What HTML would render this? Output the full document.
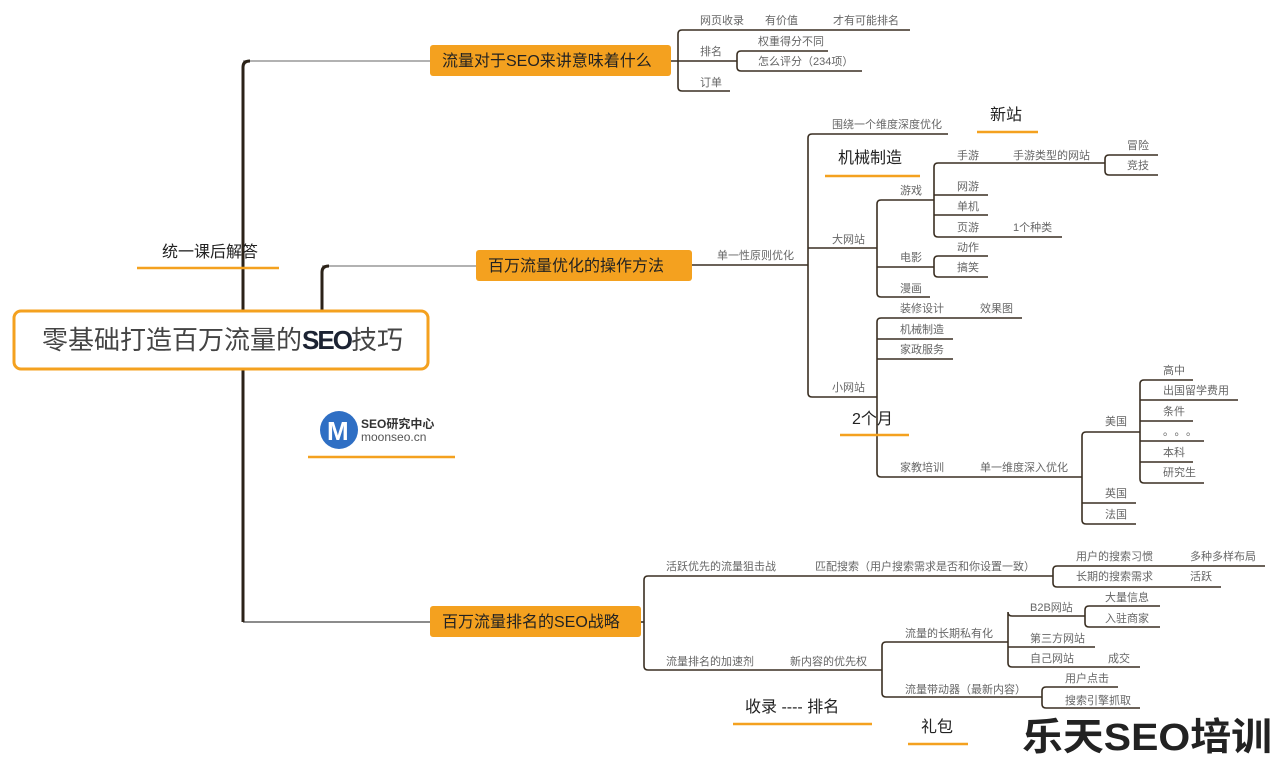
<!DOCTYPE html>
<html><head><meta charset="utf-8"><style>
html,body{margin:0;padding:0;background:#fff;}
svg{display:block;}
text{font-family:"Liberation Sans","Noto Sans CJK SC",sans-serif;}
.t{font-size:11px;fill:#666;}
.b{font-size:16px;fill:#222;}
.l{stroke:#3a2f22;stroke-width:1.6;fill:none;}
.o{stroke:#f4a11f;stroke-width:2.5;}
</style></head><body>
<svg width="1280" height="758" viewBox="0 0 1280 758" xmlns="http://www.w3.org/2000/svg">
<!-- trunk -->
<path d="M243,61 L430,61" stroke="#999" stroke-width="1.5"/>
<path d="M322,266 L476,266" stroke="#999" stroke-width="1.5"/>
<path d="M243,622 L430,622" stroke="#666" stroke-width="1.5"/>
<path d="M243,622 L243,67 Q243,61 250,61" fill="none" stroke="#2b2218" stroke-width="3"/>
<path d="M322,310 L322,272 Q322,266 329,266" fill="none" stroke="#2b2218" stroke-width="3"/>

<!-- root -->
<rect x="14" y="311" width="414" height="58" rx="7" fill="#fff" stroke="#f4a11f" stroke-width="3"/>
<text x="42" y="349" style="font-size:26px;fill:#444;">零基础打造百万流量的<tspan style="font-weight:bold;fill:#1c2333;letter-spacing:-2px">SEO</tspan>技巧</text>

<!-- left labels -->
<text x="162" y="257" style="font-size:16px;fill:#222;">统一课后解答</text>
<line x1="137" y1="268" x2="279" y2="268" class="o"/>
<circle cx="339" cy="430" r="19" fill="#2f6fc4"/>
<text x="327" y="440" style="font-size:26px;font-weight:bold;fill:#fff;">M</text>
<text x="361" y="428" style="font-size:12px;font-weight:bold;fill:#333;">SEO研究中心</text>
<text x="361" y="441" style="font-size:12px;fill:#555;">moonseo.cn</text>
<line x1="308" y1="457" x2="455" y2="457" class="o"/>

<!-- orange boxes -->
<rect x="430" y="45" width="241" height="31" rx="3" fill="#f4a11f"/>
<text x="442" y="66" class="b">流量对于SEO来讲意味着什么</text>
<rect x="476" y="250" width="216" height="31" rx="3" fill="#f4a11f"/>
<text x="488" y="271" class="b">百万流量优化的操作方法</text>
<rect x="430" y="606" width="211" height="31" rx="3" fill="#f4a11f"/>
<text x="442" y="627" class="b">百万流量排名的SEO战略</text>

<!-- branch 1 -->
<g class="l">
<path d="M671,61 L737,61"/>
<path d="M910,30 L682,30 Q678,30 678,34 L678,87 Q678,91 682,91 L730,91"/>
<path d="M828,51 L741,51 Q737,51 737,55 L737,67 Q737,71 741,71 L862,71"/>
</g>
<text x="700" y="24" class="t">网页收录</text><text x="765" y="24" class="t">有价值</text><text x="833" y="24" class="t">才有可能排名</text>
<text x="700" y="55" class="t">排名</text>
<text x="758" y="45" class="t">权重得分不同</text>
<text x="758" y="65" class="t">怎么评分（234项）</text>
<text x="700" y="86" class="t">订单</text>

<!-- branch 2 -->
<g class="l">
<path d="M692,265 L808,265"/>
<path d="M948,134 L812,134 Q808,134 808,138 L808,393 Q808,397 812,397 L877,397"/>
<path d="M808,248 L877,248"/>
<path d="M930,297 L881,297 Q877,297 877,293 L877,204 Q877,200 881,200 L934,200"/>
<path d="M877,267 L934,267"/>
<path d="M1105,163 L938,163 Q934,163 934,167 L934,233 Q934,237 938,237 L1062,237"/>
<path d="M934,195 L988,195 M934,215 L988,215"/>
<path d="M1158,155 L1109,155 Q1105,155 1105,159 L1105,171 Q1105,175 1109,175 L1158,175"/>
<path d="M988,256 L938,256 Q934,256 934,260 L934,273 Q934,277 938,277 L988,277"/>
<path d="M877,397 L877,322 Q877,318 881,318 L1022,318"/>
<path d="M877,397 L877,473 Q877,477 881,477 L1082,477"/>
<path d="M877,339 L953,339 M877,359 L953,359"/>
<path d="M1140,432 L1086,432 Q1082,432 1082,436 L1082,520 Q1082,524 1086,524 L1136,524"/>
<path d="M1082,503 L1136,503"/>
<path d="M1193,380 L1144,380 Q1140,380 1140,384 L1140,479 Q1140,483 1144,483 L1204,483"/>
<path d="M1140,400 L1238,400 M1140,421 L1193,421 M1140,441 L1204,441 M1140,462 L1193,462"/>
</g>
<text x="717" y="259" class="t">单一性原则优化</text>
<text x="832" y="128" class="t">围绕一个维度深度优化</text>
<text x="990" y="120" class="b">新站</text>
<line x1="977" y1="132" x2="1038" y2="132" class="o"/>
<text x="838" y="163" class="b">机械制造</text>
<line x1="825" y1="176" x2="920" y2="176" class="o"/>
<text x="832" y="243" class="t">大网站</text>
<text x="900" y="194" class="t">游戏</text>
<text x="957" y="159" class="t">手游</text><text x="1013" y="159" class="t">手游类型的网站</text>
<text x="1127" y="149" class="t">冒险</text><text x="1127" y="169" class="t">竞技</text>
<text x="957" y="190" class="t">网游</text>
<text x="957" y="210" class="t">单机</text>
<text x="957" y="231" class="t">页游</text><text x="1013" y="231" class="t">1个种类</text>
<text x="900" y="261" class="t">电影</text>
<text x="957" y="251" class="t">动作</text><text x="957" y="271" class="t">搞笑</text>
<text x="900" y="292" class="t">漫画</text>
<text x="832" y="391" class="t">小网站</text>
<text x="900" y="312" class="t">装修设计</text><text x="980" y="312" class="t">效果图</text>
<text x="900" y="333" class="t">机械制造</text>
<text x="900" y="353" class="t">家政服务</text>
<text x="852" y="424" class="b">2个月</text>
<line x1="840" y1="435" x2="909" y2="435" class="o"/>
<text x="900" y="471" class="t">家教培训</text><text x="980" y="471" class="t">单一维度深入优化</text>
<text x="1105" y="425" class="t">美国</text>
<text x="1163" y="374" class="t">高中</text>
<text x="1163" y="394" class="t">出国留学费用</text>
<text x="1163" y="415" class="t">条件</text>
<text x="1163" y="435" class="t" style="letter-spacing:6px">。。。</text>
<text x="1163" y="456" class="t">本科</text>
<text x="1163" y="476" class="t">研究生</text>
<text x="1105" y="497" class="t">英国</text>
<text x="1105" y="518" class="t">法国</text>

<!-- branch 3 -->
<g class="l">
<path d="M641,622 L644,622"/>
<path d="M1053,576 L648,576 Q644,576 644,580 L644,666 Q644,670 648,670 L882,670"/>
<path d="M1265,566 L1057,566 Q1053,566 1053,570 L1053,583 Q1053,587 1057,587 L1221,587"/>
<path d="M1008,642 L886,642 Q882,642 882,646 L882,693 Q882,697 886,697 L1042,697"/>
<path d="M1085,616 L1012,616 Q1008,616 1008,612 L1008,663 Q1008,667 1012,667 L1140,667"/>
<path d="M1008,647 L1095,647"/>
<path d="M1160,606 L1089,606 Q1085,606 1085,610 L1085,623 Q1085,627 1089,627 L1160,627"/>
<path d="M1118,687 L1046,687 Q1042,687 1042,691 L1042,704 Q1042,708 1046,708 L1140,708"/>
</g>
<text x="666" y="570" class="t">活跃优先的流量狙击战</text>
<text x="815" y="570" class="t">匹配搜索（用户搜索需求是否和你设置一致）</text>
<text x="1076" y="560" class="t">用户的搜索习惯</text><text x="1190" y="560" class="t">多种多样布局</text>
<text x="1076" y="580" class="t">长期的搜索需求</text><text x="1190" y="580" class="t">活跃</text>
<text x="666" y="665" class="t">流量排名的加速剂</text>
<text x="790" y="665" class="t">新内容的优先权</text>
<text x="905" y="637" class="t">流量的长期私有化</text>
<text x="1030" y="611" class="t">B2B网站</text>
<text x="1105" y="601" class="t">大量信息</text><text x="1105" y="622" class="t">入驻商家</text>
<text x="1030" y="642" class="t">第三方网站</text>
<text x="1030" y="662" class="t">自己网站</text><text x="1108" y="662" class="t">成交</text>
<text x="905" y="693" class="t">流量带动器（最新内容）</text>
<text x="1065" y="682" class="t">用户点击</text>
<text x="1065" y="704" class="t">搜索引擎抓取</text>
<text x="745" y="712" class="b">收录 ---- 排名</text>
<line x1="733" y1="724" x2="872" y2="724" class="o"/>
<text x="921" y="732" class="b">礼包</text>
<line x1="908" y1="744" x2="968" y2="744" class="o"/>
<text x="1022" y="750" style="font-size:38px;font-weight:bold;fill:#222;" textLength="250" lengthAdjust="spacingAndGlyphs">乐天SEO培训</text>
</svg>
</body></html>
